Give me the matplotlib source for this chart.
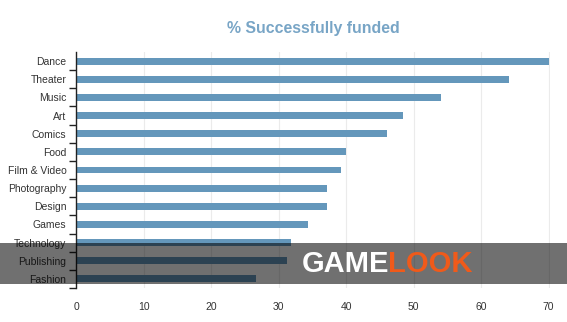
"""Bar chart of the share of successfully funded projects per category."""

import matplotlib
matplotlib.use("Agg")
import matplotlib.pyplot as plt
from matplotlib.patches import Rectangle
import numpy as np


CATEGORIES = [
	"Dance", "Theater", "Music", "Art", "Comics", "Food", "Film & Video",
	"Photography", "Design", "Games", "Technology", "Publishing", "Fashion",
]
PERCENT_FUNDED = [70.1, 64.2, 54.1, 48.5, 46.1, 40.0, 39.2, 37.1, 37.1, 34.3, 31.9, 31.2, 26.7]
X_TICKS = [0, 10, 20, 30, 40, 50, 60, 70]

BAR_COLOR = "#6497bb"
TITLE_COLOR = "#78a5c6"
TEXT_COLOR = "#333333"

plt.rcParams["font.family"] = ["Liberation Sans", "DejaVu Sans"]

W, H = 567, 322
fig = plt.figure(figsize=(W / 100, H / 100), dpi=100)
ax = fig.add_axes([76 / W, 1 - 288 / H, (550 - 76) / W, (288 - 52) / H])

positions = np.arange(len(CATEGORIES))
ax.barh(positions, PERCENT_FUNDED, height=0.38, color=BAR_COLOR, zorder=2)

ax.set_xlim(0, 70.2)
ax.set_ylim(len(CATEGORIES) - 0.5, -0.5)

# category labels sit on the bands, tick marks on the band boundaries
ax.set_yticks(positions + 0.5)
ax.set_yticklabels([])
ax.set_yticks(positions, minor=True)
ax.set_yticklabels(CATEGORIES, minor=True)
ax.tick_params(axis="y", which="major", length=5, width=1, color="#222222", direction="out")
ax.tick_params(axis="y", which="minor", length=0, pad=7, labelsize=7.5, labelcolor=TEXT_COLOR)

ax.set_xticks(X_TICKS)
ax.tick_params(axis="x", length=0, pad=10, labelsize=7.5, labelcolor=TEXT_COLOR)
ax.grid(axis="x", color="#ebebeb", linewidth=0.8, zorder=0)

for side in ("top", "right", "bottom"):
	ax.spines[side].set_visible(False)
ax.spines["left"].set_color("#222222")
ax.spines["left"].set_linewidth(1)

fig.text(ax.get_position().x0 + ax.get_position().width / 2, 1 - 29 / H,
	"% Successfully funded", ha="center", va="center",
	fontsize=11.4, fontweight="bold", color=TITLE_COLOR)

# watermark band across the lower part of the chart
fig.patches.append(Rectangle((0, 1 - 284 / H), 1, 41 / H, transform=fig.transFigure,
	facecolor="black", alpha=0.56, edgecolor="none", zorder=10))
game = fig.text(302 / W, 1 - 264 / H, "GAME", ha="left", va="center", fontsize=21,
	fontweight="heavy", color="white", zorder=11)
renderer = fig.canvas.get_renderer()
game_end = game.get_window_extent(renderer).x1 / (W)
fig.text(game_end - 1 / W, 1 - 264 / H, "LOOK", ha="left", va="center", fontsize=21,
	fontweight="heavy", color="#f05a1a", zorder=11)

fig.savefig("out.png", dpi=100)
